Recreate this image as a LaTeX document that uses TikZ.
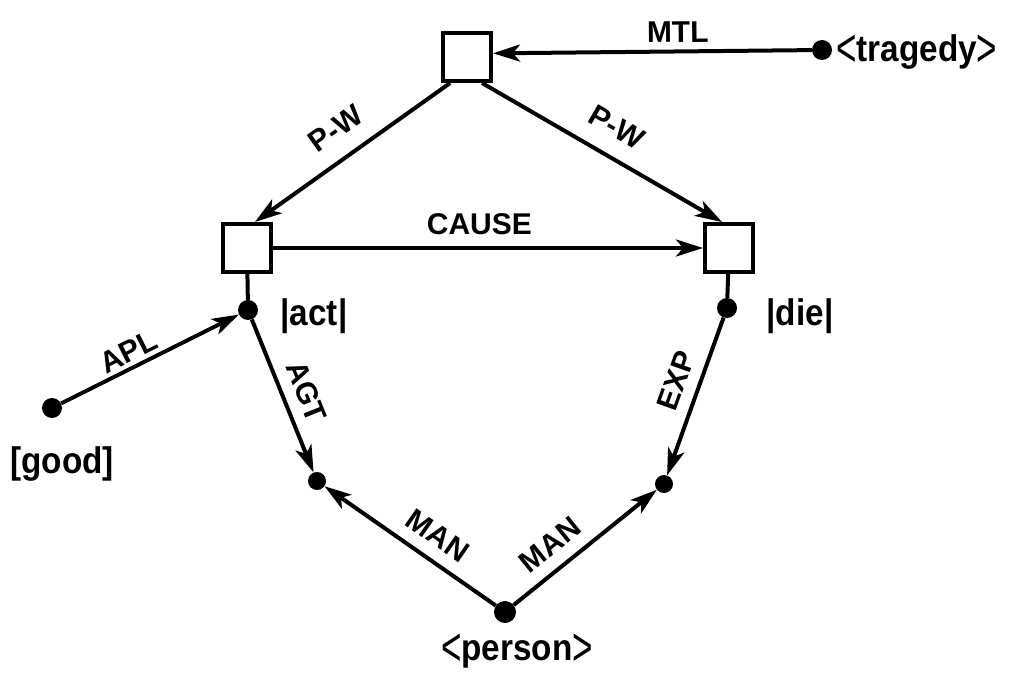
\documentclass[tikz,border=0pt]{standalone}
\usepackage{fontspec}
\usepackage{graphicx}
\setmainfont{Liberation Sans}[FakeStretch=0.9]
\newfontfamily\labfont{Liberation Sans}
\usetikzlibrary{arrows.meta}
% tall, thin chevrons around the concept words
\newcommand\lchev{\raisebox{-5pt}{\scalebox{0.72}[1]{\fontsize{54}{54}\mdseries\selectfont <}}}
\newcommand\rchev{\raisebox{-5pt}{\scalebox{0.72}[1]{\fontsize{54}{54}\mdseries\selectfont >}}}
\begin{document}
\begin{tikzpicture}[x=1pt,y=-1pt,
  box/.style={draw,line width=4pt,minimum size=48pt,inner sep=0pt},
  dot/.style={circle,fill,minimum size=20pt,inner sep=0pt},
  conn/.style={line width=4pt,-{Stealth[length=27pt,width=17pt,inset=7pt]}},
  link/.style={line width=4pt},
  lbl/.style={font=\labfont\fontsize{30}{30}\selectfont\bfseries,sloped,inner sep=2pt},
  word/.style={font=\fontsize{37}{37}\selectfont\bfseries,inner sep=0pt},
]
\useasboundingbox (0,0) rectangle (1011,676);

% situation boxes
\node[box] (top)  at (467,57)  {};
\node[box] (lbox) at (247,248) {};
\node[box] (rbox) at (729,248) {};

% concept dots
\node[dot] (trag) at (822,50)  {};
\node[dot] (act)  at (248,310) {};
\node[dot] (die)  at (727,308) {};
\node[dot] (good) at (52,408)  {};
\node[dot,minimum size=18pt] (agt) at (317,481) {};
\node[dot,minimum size=18pt] (exp) at (664,484) {};
\node[dot,minimum size=22pt] (person) at (505,612) {};

% concept words
\node[word,anchor=base west] (tragw) at (836,62) {\lchev tragedy\rchev};
\node[word,anchor=base] (personw) at (517,660) {\lchev person\rchev};
\node[word,anchor=base] (goodw) at (62,473) {[good]};
\node[word,anchor=base] (actw) at (314,325) {|act|};
\node[word,anchor=base] (diew) at (800,325) {|die|};

% relations
\draw[conn] (trag) -- (top.8) node[lbl,pos=0.42,above=5pt] {MTL};
\draw[conn] (top.-123) -- (lbox.73) node[lbl,midway,above=15pt] {P-W};
\draw[conn] (top.-60) -- (rbox.105) node[lbl,midway,above=15pt] {P-W};
\draw[conn] (lbox) -- (rbox) node[lbl,pos=0.48,above=9pt] {CAUSE};
\draw[link] (lbox) -- (act);
\draw[link] (rbox) -- (die);
\draw[conn] (good) -- (act) node[lbl,pos=0.42,above=2pt] {APL};
\draw[conn] (act) -- (agt) node[lbl,pos=0.53,above=9pt] {AGT};
\draw[conn] (die) -- (exp) node[lbl,pos=0.45,above=9pt] {EXP};
\draw[conn] (person) -- (agt) node[lbl,pos=0.42,above=10pt] {MAN};
\draw[conn] (person) -- (exp) node[lbl,pos=0.36,above=10pt] {MAN};
\end{tikzpicture}
\end{document}
